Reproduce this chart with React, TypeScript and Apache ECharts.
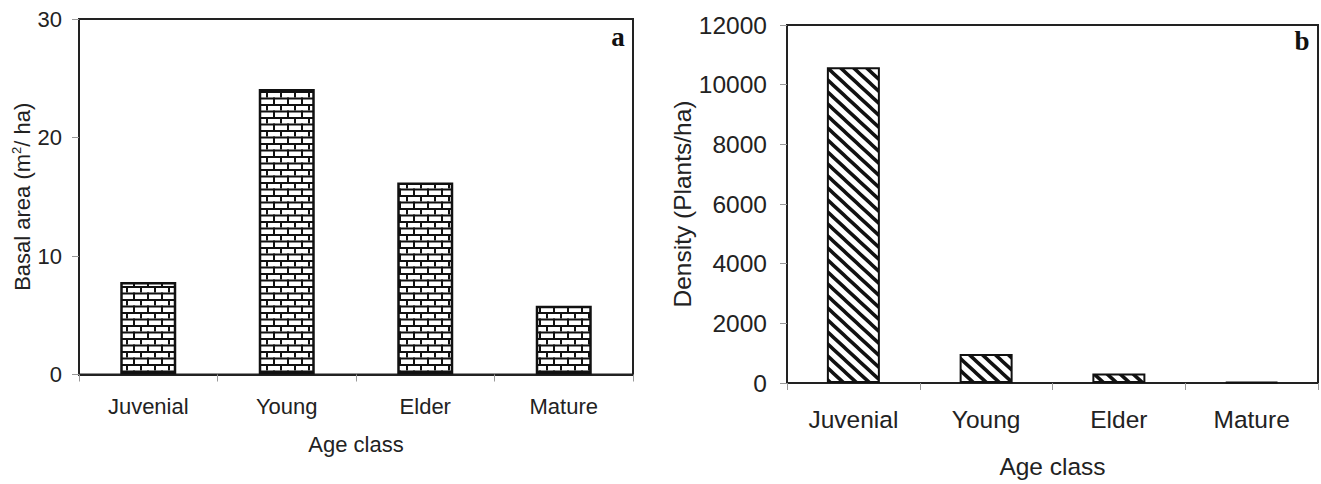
import React, { useEffect, useRef } from 'react';
import * as echarts from 'echarts';

const categories = ['Juvenial', 'Young', 'Elder', 'Mature'];
const basalArea = [7.8, 24.1, 16.2, 5.8];
const density = [10580, 970, 320, 40];
const basalAxis = { min: 0, max: 30, interval: 10 };
const densityAxis = { min: 0, max: 12000, interval: 2000 };
const xName = 'Age class';
const basalName = '{n|Basal area (m}{s|2}{n|/ ha)}';
const densityName = 'Density (Plants/ha)';
const panelLetters = ['a', 'b'];

const INK = '#222';
const FONT = 'Liberation Sans, Arial, sans-serif';

function brickPattern(): HTMLCanvasElement {
  const c = document.createElement('canvas');
  c.width = 14;
  c.height = 13;
  const g = c.getContext('2d')!;
  g.fillStyle = '#fff';
  g.fillRect(0, 0, 14, 13);
  g.fillStyle = '#111';
  g.fillRect(0, 0, 14, 2);
  g.fillRect(0, 6.5, 14, 2);
  g.fillRect(0, 0, 2, 6.5);
  g.fillRect(7, 6.5, 2, 6.5);
  return c;
}

function hatchPattern(): HTMLCanvasElement {
  const W = 13;
  const H = 12;
  const c = document.createElement('canvas');
  c.width = W;
  c.height = H;
  const g = c.getContext('2d')!;
  g.fillStyle = '#fff';
  g.fillRect(0, 0, W, H);
  g.strokeStyle = '#111';
  g.lineWidth = 3.5;
  const offs = [[0, 0], [-W, 0], [W, 0], [0, -H], [0, H]];
  g.beginPath();
  for (const [dx, dy] of offs) {
    g.moveTo(dx - 2, dy - 2 * H / W);
    g.lineTo(dx + W + 2, dy + H + 2 * H / W);
  }
  g.stroke();
  return c;
}

export default function App() {
  const ref = useRef<HTMLDivElement>(null);
  useEffect(() => {
    if (!ref.current) return;
    const chart = echarts.init(ref.current, null, { renderer: 'svg' });
    const xAxisBase = (gridIndex: number, fs: number, margin: number, gap: number) => ({
      gridIndex,
      type: 'category' as const,
      data: categories,
      axisLine: { show: true, lineStyle: { color: INK, width: 2 } },
      axisTick: { show: true, length: 7, lineStyle: { color: '#999', width: 1 } },
      axisLabel: { color: INK, fontSize: fs, fontFamily: FONT, margin },
      name: xName,
      nameLocation: 'middle' as const,
      nameGap: gap,
      nameTextStyle: { color: INK, fontSize: fs, fontFamily: FONT },
    });
    chart.setOption({
      animation: false,
      backgroundColor: '#fff',
      grid: [
        { left: 79, top: 19, width: 554, height: 355.5, show: true, borderColor: INK, borderWidth: 2, containLabel: false },
        { left: 787, top: 25, width: 531, height: 366.5, show: true, borderColor: INK, borderWidth: 2, containLabel: false },
      ],
      xAxis: [xAxisBase(0, 22, 21, 59), xAxisBase(1, 24.5, 24, 71)],
      yAxis: [
        {
          gridIndex: 0,
          type: 'value',
          ...basalAxis,
          axisLine: { show: true, lineStyle: { color: INK, width: 2 } },
          axisTick: { show: true, length: 7, lineStyle: { color: '#999', width: 1 } },
          splitLine: { show: false },
          axisLabel: { color: INK, fontSize: 22, fontFamily: FONT, margin: 17, formatter: (v: number) => String(v) },
          name: basalName,
          nameLocation: 'middle',
          nameGap: 41,
          nameTextStyle: {
            color: INK,
            fontFamily: FONT,
            rich: {
              n: { fontSize: 22, fontFamily: FONT, color: INK, lineHeight: 26 },
              s: { fontSize: 13, fontFamily: FONT, color: INK, verticalAlign: 'top', lineHeight: 14 },
            },
          },
        },
        {
          gridIndex: 1,
          type: 'value',
          ...densityAxis,
          axisLine: { show: true, lineStyle: { color: INK, width: 2 } },
          axisTick: { show: true, length: 7, lineStyle: { color: '#999', width: 1 } },
          splitLine: { show: false },
          axisLabel: { color: INK, fontSize: 24.5, fontFamily: FONT, margin: 20, formatter: (v: number) => String(v) },
          name: densityName,
          nameLocation: 'middle',
          nameGap: 62,
          nameTextStyle: { color: INK, fontSize: 24.5, fontFamily: FONT },
        },
      ],
      series: [
        {
          type: 'bar',
          xAxisIndex: 0,
          yAxisIndex: 0,
          data: basalArea,
          barWidth: 56,
          itemStyle: { color: { image: brickPattern(), repeat: 'repeat' } as any, borderColor: '#111', borderWidth: 2.5 },
        },
        {
          type: 'bar',
          xAxisIndex: 1,
          yAxisIndex: 1,
          data: density,
          barWidth: 53,
          itemStyle: { color: { image: hatchPattern(), repeat: 'repeat' } as any, borderColor: '#111', borderWidth: 2 },
        },
      ],
      graphic: [
        {
          type: 'text',
          x: 618,
          y: 37,
          style: { text: panelLetters[0], font: 'bold 27px "Liberation Serif", serif', fill: '#111', align: 'center', verticalAlign: 'middle' },
        },
        {
          type: 'text',
          x: 1302,
          y: 41,
          style: { text: panelLetters[1], font: 'bold 27px "Liberation Serif", serif', fill: '#111', align: 'center', verticalAlign: 'middle' },
        },
      ],
    });
    return () => chart.dispose();
  }, []);
  return <div ref={ref} style={{ position: 'absolute', left: 0, top: 0, width: 1321, height: 484 }} />;
}
